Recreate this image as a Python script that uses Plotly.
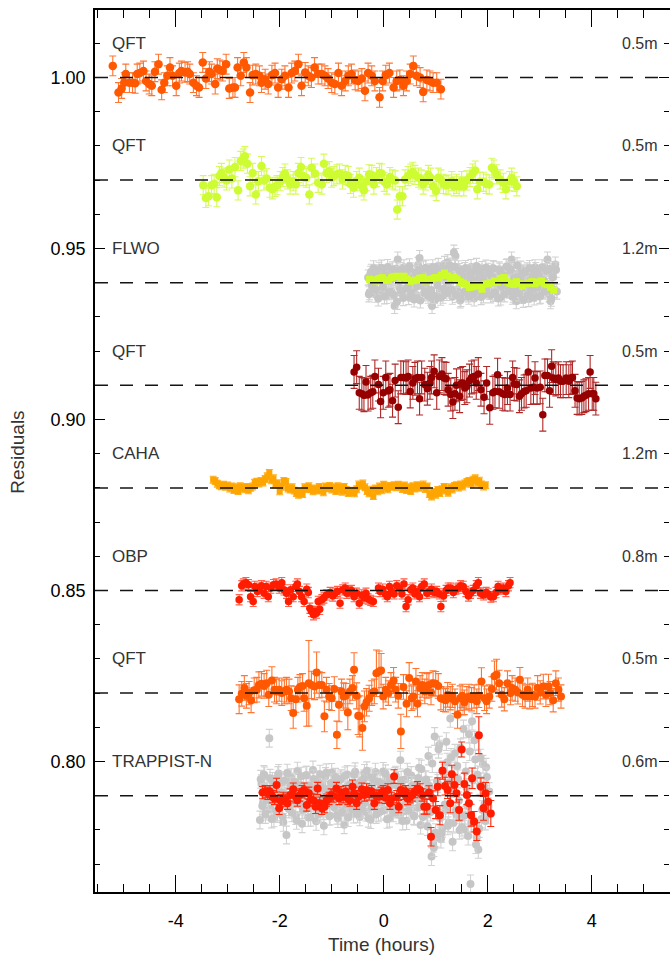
import plotly.graph_objects as go

# Stacked light-curve residuals: each light curve is shifted to its own baseline.
OFFSETS = [1.00, 0.97, 0.94, 0.91, 0.88, 0.85, 0.82, 0.79]
SITES = ["QFT", "QFT", "FLWO", "QFT", "CAHA", "OBP", "QFT", "TRAPPIST-N"]
APERTURES = ["0.5m", "0.5m", "1.2m", "0.5m", "1.2m", "0.8m", "0.5m", "0.6m"]
LABEL_SHIFT = 0.01  # site / aperture labels sit one grid step above each baseline

X_TICKS = [-4, -2, 0, 2, 4]
X_TICK_TEXT = ["-4", "-2", "0", "2", "4"]
Y_TICKS = [0.80, 0.85, 0.90, 0.95, 1.00]
Y_TICK_TEXT = ["0.80", "0.85", "0.90", "0.95", "1.00"]
Y_RANGE = [0.76184, 1.01974]

# Times in hours from mid-transit; residuals and errors in parts per thousand.
QFT1_T = [-5.21,-5.10,-5.04,-4.99,-4.96,-4.89,-4.83,-4.78,-4.74,-4.69,
          -4.62,-4.57,-4.51,-4.46,-4.40,-4.33,-4.27,-4.22,-4.16,-4.11,
          -4.06,-3.99,-3.93,-3.89,-3.82,-3.77,-3.73,-3.66,-3.60,-3.55,
          -3.48,-3.42,-3.35,-3.31,-3.24,-3.20,-3.15,-3.10,-3.03,-2.97,
          -2.90,-2.86,-2.81,-2.75,-2.69,-2.64,-2.57,-2.52,-2.46,-2.39,
          -2.35,-2.28,-2.22,-2.15,-2.09,-2.03,-1.96,-1.90,-1.83,-1.77,
          -1.71,-1.64,-1.58,-1.51,-1.45,-1.39,-1.33,-1.26,-1.19,-1.13,
          -1.07,-1.00,-0.94,-0.87,-0.81,-0.74,-0.68,-0.62,-0.55,-0.49,
          -0.42,-0.36,-0.30,-0.23,-0.17,-0.08,-0.02,0.04,0.11,0.19,
          0.25,0.31,0.38,0.44,0.51,0.57,0.63,0.70,0.76,0.83,
          0.89,0.95,1.02,1.10]
QFT1_R = [3.4,-4.4,-3.2,-1.5,1.0,-1.5,-1.5,-1.7,1.0,1.3,
          1.9,-1.0,-1.9,-2.4,1.7,3.9,-3.6,-1.5,0.5,2.9,
          0.5,-2.4,1.3,1.9,1.5,1.7,1.0,-1.5,-2.4,-2.9,
          4.4,-0.3,1.7,1.0,-1.9,2.6,2.2,1.9,3.9,-3.2,
          -2.9,-2.9,2.9,0.5,4.4,2.9,-4.4,0.7,1.0,0.5,
          -1.5,-0.5,-1.9,0.7,1.3,-2.9,-0.5,0.5,-2.9,1.3,
          1.9,3.9,-2.4,1.5,0.5,0.0,2.9,1.0,1.0,0.5,
          -0.3,-1.5,-1.9,1.3,-2.4,-1.0,0.5,1.0,-0.7,-1.0,
          -0.3,-3.9,1.3,0.5,-1.0,-5.8,-1.0,0.7,1.3,-2.9,
          -1.0,-0.7,-2.4,-1.0,1.0,3.4,0.5,0.0,-4.2,-0.7,
          -1.0,-1.5,-1.5,-3.4]
QFT1_ERR = 2.9

QFT2_T = [-3.47,-3.42,-3.37,-3.31,-3.26,-3.21,-3.16,-3.12,-3.07,-3.02,
          -2.97,-2.92,-2.86,-2.80,-2.75,-2.70,-2.67,-2.62,-2.57,-2.52,
          -2.46,-2.41,-2.35,-2.30,-2.25,-2.19,-2.14,-2.09,-2.05,-1.99,
          -1.94,-1.90,-1.85,-1.80,-1.74,-1.69,-1.64,-1.59,-1.55,-1.49,
          -1.43,-1.39,-1.32,-1.26,-1.19,-1.15,-1.10,-1.05,-1.00,-0.96,
          -0.90,-0.85,-0.79,-0.74,-0.68,-0.64,-0.58,-0.52,-0.47,-0.42,
          -0.38,-0.33,-0.28,-0.23,-0.19,-0.14,-0.08,-0.04,0.01,0.06,
          0.12,0.17,0.22,0.26,0.31,0.36,0.41,0.47,0.52,0.56,
          0.60,0.67,0.72,0.76,0.81,0.86,0.90,0.95,1.01,1.05,
          1.10,1.15,1.20,1.24,1.31,1.35,1.40,1.45,1.50,1.54,
          1.60,1.66,1.71,1.76,1.80,1.85,1.92,1.97,2.03,2.08,
          2.12,2.17,2.24,2.30,2.35,2.42,2.46,2.51,2.56]
QFT2_R = [-1.5,-5.2,-4.7,-1.5,-1.1,-5.0,1.2,2.1,0.7,-0.1,
          3.1,0.5,3.8,-3.0,5.6,6.3,7.0,4.8,-1.8,2.1,
          -4.2,-0.3,4.1,-0.1,0.5,-2.2,-2.7,-2.0,-1.5,-0.3,
          0.9,1.9,0.2,-1.3,-0.3,-1.3,2.1,3.8,1.2,0.7,
          -4.2,3.6,1.9,-0.8,-1.3,4.8,2.1,2.6,0.7,1.2,
          1.7,1.9,0.2,1.5,1.2,-1.1,-2.2,-0.3,0.7,-1.8,
          -3.0,-0.3,1.7,1.5,-1.3,0.9,2.1,1.9,-0.5,-1.3,
          0.9,0.2,-0.1,-8.6,-4.7,-4.7,0.2,1.2,1.9,2.4,
          1.5,0.7,0.2,-1.3,-0.1,1.5,0.7,-1.8,-3.2,0.7,
          0.2,-1.1,-1.5,-1.3,-0.3,-1.8,-1.1,-1.8,-0.3,-1.8,
          -0.1,0.9,1.9,2.8,-2.7,-0.5,-0.5,-1.1,-1.3,3.6,
          3.1,1.7,0.2,-0.8,-2.7,-0.3,0.7,-0.5,-1.8]
QFT2_ERR = 2.8

FLWO_RAW_T = [-0.30,-0.27,-0.24,-0.21,-0.18,-0.15,-0.12,-0.09,-0.06,-0.03,0.00,
              0.03,0.06,0.09,0.12,0.15,0.18,0.21,0.24,0.27,0.30,
              0.33,0.36,0.39,0.42,0.45,0.48,0.51,0.54,0.57,0.60,
              0.63,0.66,0.69,0.72,0.75,0.78,0.81,0.84,0.87,0.90,
              0.93,0.96,0.99,1.02,1.05,1.08,1.11,1.14,1.17,1.20,
              1.23,1.26,1.29,1.32,1.35,1.38,1.41,1.44,1.47,1.50,
              1.53,1.56,1.59,1.62,1.65,1.68,1.71,1.74,1.77,1.80,
              1.83,1.86,1.89,1.92,1.95,1.98,2.01,2.04,2.07,2.10,
              2.13,2.16,2.19,2.22,2.25,2.28,2.31,2.34,2.37,2.40,
              2.43,2.46,2.49,2.52,2.55,2.58,2.61,2.64,2.67,2.70,
              2.73,2.76,2.79,2.82,2.85,2.88,2.91,2.94,2.97,3.00,
              3.03,3.06,3.09,3.12,3.15,3.18,3.21,3.24,3.27,3.30,
              3.33]
FLWO_RAW_R = [1.5,-2.8,3.2,-1.0,2.4,-3.5,0.6,3.8,-2.2,1.2,-1.6,
              2.9,-3.9,0.4,3.3,-2.6,1.8,-6.8,4.1,6.8,-1.4,
              -3.0,2.2,4.5,-1.8,0.9,-4.2,3.6,1.3,-2.5,2.7,
              -3.6,5.2,7.2,-0.8,2.0,-3.1,4.4,-1.9,1.1,-4.4,
              -6.8,3.4,-5.0,0.5,4.9,-2.3,2.6,-3.8,5.5,0.2,
              6.0,-1.5,3.0,-4.1,8.8,7.8,-2.0,4.2,-5.2,1.4,
              -2.9,3.7,0.3,-3.4,2.5,4.6,-1.2,-4.6,1.9,3.1,
              -2.4,0.8,4.0,-3.7,2.1,-1.0,3.5,-2.7,0.6,4.3,
              -3.3,1.6,-0.5,3.9,-4.3,2.3,0.0,-2.1,4.8,-1.3,
              3.2,6.8,-3.5,1.0,-5.4,2.8,-0.9,4.1,-3.9,1.7,
              -2.0,3.6,-4.8,0.7,2.4,-3.2,4.5,-1.6,1.2,-4.0,
              2.9,-2.2,0.4,4.2,6.8,-3.4,-5.4,1.8,3.3,5.3,
              -2.6]
FLWO_RAW2_T = [-0.285,-0.255,-0.225,-0.195,-0.165,-0.135,-0.105,-0.075,-0.045,-0.015,
               0.015,0.045,0.075,0.105,0.135,0.165,0.195,0.225,0.255,0.285,
               0.315,0.345,0.375,0.405,0.435,0.465,0.495,0.525,0.555,0.585,
               0.615,0.645,0.675,0.705,0.735,0.765,0.795,0.825,0.855,0.885,
               0.915,0.945,0.975,1.005,1.035,1.065,1.095,1.125,1.155,1.185,
               1.215,1.245,1.275,1.305,1.335,1.365,1.395,1.425,1.455,1.485,
               1.515,1.545,1.575,1.605,1.635,1.665,1.695,1.725,1.755,1.785,
               1.815,1.845,1.875,1.905,1.935,1.965,1.995,2.025,2.055,2.085,
               2.115,2.145,2.175,2.205,2.235,2.265,2.295,2.325,2.355,2.385,
               2.415,2.445,2.475,2.505,2.535,2.565,2.595,2.625,2.655,2.685,
               2.715,2.745,2.775,2.805,2.835,2.865,2.895,2.925,2.955,2.985,
               3.015,3.045,3.075,3.105,3.135,3.165,3.195,3.225,3.255,3.285,
               3.315]
FLWO_RAW2_R = [-3.4,2.6,-0.8,4.2,-2.0,3.0,-4.6,1.8,4.4,-1.2,
               -4.0,2.2,4.6,-2.8,0.9,3.9,-3.5,1.4,-5.6,2.5,
               3.7,-2.4,-4.5,1.0,3.1,-1.5,4.8,-3.3,0.6,-4.9,
               2.9,-1.0,3.6,-5.2,1.6,4.1,-2.6,0.3,-3.8,3.3,
               -2.1,4.5,-3.9,1.9,-0.7,3.8,-4.4,2.4,-1.8,4.0,
               -3.0,2.7,5.0,-2.2,1.1,4.7,-3.6,0.8,3.4,-4.8,
               2.0,-2.7,4.3,-1.4,-4.1,1.5,3.0,-3.2,0.4,4.9,
               -1.9,3.2,-4.2,1.2,-2.5,4.4,-0.6,2.8,-3.7,1.7,
               4.1,-2.9,0.5,-4.6,3.5,-1.1,2.3,-3.4,4.6,0.0,
               -2.3,3.9,-4.1,1.3,-1.7,5.1,-3.1,0.9,2.6,-5.0,
               3.0,-0.4,-3.6,4.3,-2.0,1.8,-4.3,3.7,-1.3,2.1,
               -3.8,4.5,0.7,-2.6,3.4,-1.6,4.0,-4.7,1.6,-2.1,
               3.8]
FLWO_RAW_ERR = 2.2

FLWO_BIN_T = [-0.27,-0.21,-0.15,-0.09,-0.03,0.03,0.09,0.15,0.21,0.27,
              0.33,0.39,0.45,0.51,0.57,0.63,0.69,0.75,0.81,0.87,
              0.93,0.99,1.05,1.11,1.17,1.23,1.29,1.35,1.41,1.47,
              1.53,1.59,1.65,1.71,1.77,1.83,1.89,1.95,2.01,2.07,
              2.13,2.19,2.25,2.31,2.37,2.43,2.49,2.55,2.61,2.67,
              2.73,2.79,2.85,2.91,2.97,3.03,3.09,3.15,3.21,3.27]
FLWO_BIN_R = [1.0,0.8,0.5,1.2,1.5,0.8,0.7,1.5,1.8,1.9,
              1.6,1.9,1.0,0.4,0.6,0.8,1.3,1.5,0.5,0.9,
              1.1,1.5,1.4,2.2,2.8,2.0,1.4,1.5,1.0,0.3,
              -0.2,-0.6,-1.4,-1.2,-0.5,-1.0,-1.9,-0.4,-0.3,0.0,
              0.5,0.2,1.2,1.5,0.3,-0.2,-0.5,0.3,-0.3,-1.0,
              -0.4,-0.2,0.3,-0.3,0.2,0.5,-0.2,-0.6,-1.4,-2.2]
FLWO_BIN_ERR = 0.7

QFT3_T = [-0.57,-0.52,-0.47,-0.42,-0.38,-0.34,-0.30,-0.25,-0.21,-0.17,
          -0.10,-0.06,-0.01,0.04,0.09,0.12,0.17,0.22,0.28,0.33,
          0.38,0.43,0.47,0.51,0.56,0.60,0.65,0.69,0.73,0.79,
          0.84,0.89,0.92,0.97,1.02,1.07,1.12,1.16,1.20,1.24,
          1.29,1.33,1.37,1.40,1.46,1.48,1.52,1.56,1.60,1.65,
          1.69,1.74,1.78,1.82,1.87,1.93,1.98,2.04,2.10,2.14,
          2.19,2.22,2.29,2.33,2.38,2.43,2.48,2.51,2.56,2.61,
          2.65,2.70,2.74,2.78,2.83,2.88,2.91,2.95,3.01,3.06,
          3.10,3.15,3.19,3.23,3.26,3.31,3.36,3.40,3.45,3.51,
          3.56,3.60,3.63,3.68,3.72,3.76,3.81,3.85,3.89,3.94,
          3.97,4.01,4.04,4.08]
QFT3_R = [3.9,5.3,-2.2,-2.5,-2.9,1.0,-2.7,-2.2,-1.9,2.6,
          0.2,-4.7,-2.2,2.3,-1.6,-1.3,-4.5,1.4,-6.4,2.3,
          2.3,2.1,2.6,-1.8,0.7,1.9,2.3,-3.9,2.3,0.2,
          -1.0,0.7,2.3,4.1,-2.2,2.6,3.3,2.1,1.9,-1.3,
          -2.7,-4.9,-2.5,0.0,-3.2,0.4,0.7,-0.8,-0.3,1.4,
          2.3,2.6,0.7,3.3,-1.3,-3.5,0.7,-6.6,-2.2,-1.8,
          3.1,-1.9,-2.5,-2.7,-0.8,-2.7,2.3,0.4,0.2,-3.2,
          -2.5,-1.8,-1.6,3.9,-0.8,-0.6,2.1,-0.8,-0.6,-8.6,
          2.9,2.9,-1.6,5.6,2.1,1.7,2.1,1.2,1.2,2.1,
          1.2,2.1,2.3,-1.6,-3.7,-3.9,-3.7,-3.2,-2.9,-2.5,
          3.9,-2.5,-2.5,-3.9]
QFT3_ERR = 4.8

CAHA_T = [-3.28,-3.24,-3.20,-3.16,-3.12,-3.08,-3.04,-3.00,-2.96,-2.92,
          -2.88,-2.84,-2.80,-2.76,-2.72,-2.68,-2.64,-2.60,-2.56,-2.52,
          -2.48,-2.44,-2.40,-2.36,-2.32,-2.28,-2.24,-2.20,-2.16,-2.12,
          -2.08,-2.04,-2.00,-1.96,-1.92,-1.88,-1.84,-1.80,-1.76,-1.72,
          -1.68,-1.64,-1.60,-1.56,-1.52,-1.48,-1.44,-1.40,-1.36,-1.32,
          -1.28,-1.24,-1.20,-1.16,-1.12,-1.08,-1.04,-1.00,-0.96,-0.92,
          -0.88,-0.84,-0.80,-0.76,-0.72,-0.68,-0.64,-0.60,-0.56,-0.52,
          -0.48,-0.44,-0.40,-0.36,-0.32,-0.28,-0.24,-0.20,-0.16,-0.12,
          -0.08,-0.04,0.00,0.04,0.08,0.12,0.16,0.20,0.24,0.28,
          0.32,0.36,0.40,0.44,0.48,0.52,0.56,0.60,0.64,0.68,
          0.72,0.76,0.80,0.84,0.88,0.92,0.96,1.00,1.04,1.08,
          1.12,1.16,1.20,1.24,1.28,1.32,1.36,1.40,1.44,1.48,
          1.52,1.56,1.60,1.64,1.68,1.72,1.76,1.80,1.84,1.88,
          1.92,1.96]
CAHA_R = [2.4,2.0,1.2,0.8,0.5,0.9,0.3,0.7,-0.2,0.4,
          -0.6,0.2,-0.9,0.5,0.1,-0.4,0.3,-0.7,0.0,0.4,
          1.5,1.8,1.3,2.0,1.6,2.6,3.4,4.4,2.2,2.8,
          1.0,1.4,-1.0,0.3,2.0,1.7,-0.2,-0.5,0.2,-0.8,
          -1.5,-2.0,-1.2,-1.8,0.2,-0.3,0.5,-0.4,-1.0,-0.2,
          -0.8,0.3,-0.6,-1.3,0.4,-0.1,0.6,-0.5,0.2,-0.9,
          0.5,-0.2,-1.1,0.3,-0.6,-1.5,-1.2,-0.8,-1.6,-0.4,
          1.0,0.6,1.3,0.2,-0.9,-1.6,-0.5,-2.4,-0.2,-1.0,
          0.4,-0.7,0.9,0.1,-0.4,0.6,0.3,0.8,0.2,0.9,
          0.4,-0.3,0.7,-0.6,0.2,-0.9,0.5,-0.2,0.8,0.0,
          0.6,1.0,-0.3,0.4,-1.8,-2.5,-1.2,-2.0,-0.6,-1.5,
          -0.4,0.3,-0.8,-1.4,0.2,-0.5,0.6,0.8,0.1,1.0,
          0.4,1.3,1.7,2.0,1.2,2.4,2.8,1.5,2.1,1.0,
          0.4,0.8]
CAHA_ERR = 1.0

OBP_T = [-2.78,-2.73,-2.70,-2.65,-2.60,-2.56,-2.51,-2.48,-2.43,-2.39,
         -2.35,-2.30,-2.26,-2.22,-2.17,-2.12,-2.07,-2.01,-1.96,-1.92,
         -1.87,-1.83,-1.79,-1.74,-1.69,-1.66,-1.62,-1.58,-1.53,-1.48,
         -1.45,-1.42,-1.39,-1.35,-1.32,-1.29,-1.26,-1.23,-1.19,-1.15,
         -1.10,-1.03,-0.98,-0.94,-0.89,-0.84,-0.79,-0.74,-0.71,-0.66,
         -0.62,-0.57,-0.52,-0.47,-0.42,-0.38,-0.34,-0.30,-0.25,-0.20,
         -0.10,-0.07,-0.02,0.03,0.07,0.11,0.15,0.20,0.25,0.30,
         0.35,0.39,0.43,0.47,0.52,0.56,0.60,0.65,0.69,0.73,
         0.78,0.83,0.88,0.92,0.97,1.02,1.07,1.10,1.15,1.20,
         1.24,1.29,1.34,1.39,1.44,1.48,1.53,1.58,1.63,1.67,
         1.72,1.78,1.82,1.86,1.92,1.97,2.01,2.06,2.11,2.16,
         2.20,2.25,2.30,2.35,2.40,2.43]
OBP_R = [-2.7,1.4,1.9,2.3,1.7,-1.8,-3.2,1.2,-0.3,0.7,
         1.4,-0.8,1.2,-1.8,0.7,1.7,1.9,0.7,2.3,0.2,
         -0.8,-3.2,0.2,-1.8,1.2,1.9,-0.3,-1.8,-3.2,0.4,
         -0.6,-5.2,-6.1,-7.1,-6.1,-6.6,-3.2,-5.5,-2.7,-2.2,
         -1.3,-0.6,-1.6,-0.8,-0.3,-3.7,0.2,0.7,-0.8,-0.3,
         0.0,-1.8,-0.8,-3.7,-1.3,-2.2,-0.8,-2.5,-2.9,-3.2,
         0.7,-0.3,0.4,-1.0,-1.8,1.2,-0.3,-1.0,1.4,0.7,
         -1.0,1.9,-4.7,-2.7,0.2,0.7,-1.0,-0.3,-1.8,1.2,
         1.9,-0.8,-0.3,0.4,-0.6,-0.3,-1.0,-4.7,-1.6,0.0,
         0.7,0.7,-0.6,0.4,0.7,1.4,1.2,-0.3,-1.6,-0.8,
         0.0,1.4,2.3,-0.8,-1.3,-0.6,-1.0,-1.9,-1.8,-0.6,
         1.2,0.4,0.7,-0.3,1.4,2.3]
OBP_ERR = 1.5

QFT4_T = [-2.78,-2.73,-2.68,-2.64,-2.59,-2.55,-2.49,-2.44,-2.40,-2.35,
          -2.30,-2.25,-2.21,-2.15,-2.10,-2.06,-2.01,-1.96,-1.91,-1.87,
          -1.82,-1.78,-1.74,-1.69,-1.65,-1.61,-1.56,-1.53,-1.48,-1.44,
          -1.39,-1.33,-1.29,-1.24,-1.19,-1.14,-1.10,-1.05,-1.00,-0.95,
          -0.90,-0.86,-0.81,-0.77,-0.73,-0.69,-0.65,-0.60,-0.57,-0.52,
          -0.49,-0.46,-0.41,-0.37,-0.33,-0.28,-0.23,-0.18,-0.14,-0.09,
          -0.05,-0.01,0.04,0.09,0.14,0.19,0.23,0.28,0.33,0.38,
          0.44,0.49,0.54,0.57,0.62,0.65,0.70,0.74,0.79,0.83,
          0.87,0.91,0.95,1.00,1.05,1.10,1.15,1.19,1.23,1.28,
          1.32,1.37,1.42,1.47,1.51,1.55,1.60,1.64,1.69,1.74,
          1.79,1.83,1.88,1.94,1.98,2.03,2.08,2.13,2.17,2.22,
          2.27,2.32,2.38,2.44,2.47,2.53,2.58,2.62,2.67,2.72,
          2.77,2.81,2.86,2.91,2.96,3.01,3.07,3.12,3.17,3.20,
          3.26,3.31,3.36,3.41]
QFT4_R = [-1.8,-0.2,1.5,-0.8,0.0,-2.1,0.8,1.0,2.4,2.7,
          2.1,2.9,-0.5,3.7,1.0,0.5,1.0,0.0,0.5,1.0,
          0.5,-1.5,-5.8,-1.8,1.0,1.8,2.1,-1.5,-3.7,2.9,
          2.4,1.9,6.0,2.4,2.4,-6.8,1.0,-1.0,-1.5,1.2,
          -12.2,-3.4,0.5,-1.0,-0.8,-5.7,0.5,1.5,6.8,-0.8,
          -6.6,-6.8,-10.2,-3.9,-2.7,-1.5,0.0,0.5,5.8,6.3,
          6.6,-1.0,1.0,0.0,2.4,3.7,1.0,-0.8,-11.2,1.8,
          -3.1,4.4,-1.5,-1.0,3.4,-3.1,1.5,2.4,0.5,2.1,
          2.4,0.2,2.9,2.7,2.1,-1.5,-1.8,-2.1,-0.5,-1.5,
          -0.8,-2.4,-6.3,-1.5,-0.8,-2.7,-1.5,-1.0,-1.8,-1.0,
          -2.4,-0.8,3.4,-1.5,-2.4,-1.0,1.2,4.9,5.4,2.9,
          -0.5,-1.8,2.9,0.0,1.5,1.0,0.2,3.9,-0.5,-1.0,
          1.0,-1.0,-0.5,-1.0,1.5,0.2,1.9,-0.5,1.9,0.0,
          -2.1,2.9,1.0,-1.0]
QFT4_E = [4.2,3.6,3.6,3.6,3.4,3.6,3.6,3.6,3.8,3.6,
          3.6,3.8,3.4,4.0,3.6,3.6,3.4,3.6,3.6,3.6,
          3.6,3.6,4.5,3.8,3.6,3.6,3.6,3.8,6.0,12.5,
          4.0,3.8,6.0,3.8,3.6,4.5,3.6,3.8,3.6,3.6,
          4.0,5.0,3.6,4.0,3.6,5.0,3.6,3.6,5.0,3.8,
          5.5,6.0,6.5,4.5,4.0,3.8,3.6,3.6,6.8,6.0,
          5.0,3.6,3.6,3.6,3.6,3.8,3.6,3.6,5.0,3.6,
          3.8,4.5,3.6,3.6,3.8,3.8,3.6,3.6,3.6,3.6,
          3.6,3.6,3.6,3.6,3.6,3.4,3.6,3.4,3.6,3.4,
          3.4,3.6,4.0,3.6,3.4,3.6,3.4,3.6,3.4,3.4,
          3.6,3.4,4.0,3.6,3.6,3.4,3.6,4.5,4.5,3.8,
          3.6,3.4,3.6,3.4,3.6,3.4,3.4,3.6,3.4,3.4,
          3.4,3.6,3.4,3.4,3.6,3.4,3.6,3.4,3.6,3.4,
          3.4,3.6,3.4,3.4]

TRN_RAW_T = [-2.38,-2.35,-2.32,-2.29,-2.26,-2.23,-2.20,-2.17,-2.14,-2.11,
             -2.08,-2.05,-2.02,-1.99,-1.96,-1.93,-1.90,-1.87,-1.84,-1.81,
             -1.78,-1.75,-1.72,-1.69,-1.66,-1.63,-1.60,-1.57,-1.54,-1.51,
             -1.48,-1.45,-1.42,-1.39,-1.36,-1.33,-1.30,-1.27,-1.24,-1.21,
             -1.18,-1.15,-1.12,-1.09,-1.06,-1.03,-1.00,-0.97,-0.94,-0.91,
             -0.88,-0.85,-0.82,-0.79,-0.76,-0.73,-0.70,-0.67,-0.64,-0.61,
             -0.58,-0.55,-0.52,-0.49,-0.46,-0.43,-0.40,-0.37,-0.34,-0.31,
             -0.28,-0.25,-0.22,-0.19,-0.16,-0.13,-0.10,-0.07,-0.04,-0.01,
             0.02,0.05,0.08,0.11,0.14,0.17,0.20,0.23,0.26,0.29,
             0.32,0.35,0.38,0.41,0.44,0.47,0.50,0.53,0.56,0.59,
             0.62,0.65,0.68,0.71,0.74,0.77,0.80,0.83,0.86,0.89,
             0.92,0.95,0.98,1.01,1.04,1.07,1.10,1.13,1.16,1.19,
             1.22,1.25,1.28,1.31,1.34,1.37,1.40,1.43,1.46,1.49,
             1.52,1.55,1.58,1.61,1.64,1.67,1.70,1.73,1.76,1.79,
             1.82,1.85,1.88,1.91,1.94,1.97,2.00,2.03]
TRN_RAW_R = [-7.1,3.5,-2.0,5.8,-4.5,1.2,16.8,-3.8,4.2,-6.5,
             2.6,-5.2,6.5,-1.0,3.8,-7.8,0.5,-11.5,4.9,-3.2,
             5.3,-2.6,1.9,-5.8,7.2,-0.4,3.1,-8.2,2.4,-4.0,
             6.0,-6.4,1.1,-2.9,7.5,-1.8,-7.5,4.6,0.3,-5.1,
             3.4,-8.8,5.6,-2.3,1.5,-5.9,6.8,-0.9,-3.6,4.0,
             -6.7,2.1,5.0,-3.0,-8.5,1.7,6.2,-4.4,0.8,3.6,
             -5.4,7.0,-1.5,2.8,-6.2,4.3,-2.5,6.5,-4.8,1.0,
             5.5,-7.0,2.9,-3.3,6.9,-0.6,-5.0,3.9,-2.0,7.1,
             -4.2,1.4,5.2,-6.6,0.2,3.2,-3.9,6.0,-1.1,-5.6,
             10.4,2.5,-4.6,4.7,-7.3,1.8,-2.8,5.9,-0.2,-6.0,
             3.3,-3.5,8.2,-8.6,1.0,-1.6,4.4,-5.3,11.6,2.0,
             -17.8,-13.9,17.3,-12.4,3.6,14.8,-12.7,-9.5,6.4,-4.3,
             9.8,-7.9,22.6,2.1,-8.0,12.4,-5.6,4.9,-10.1,-6.4,
             26.0,-9.8,7.1,-3.0,18.0,-25.8,21.8,-7.2,10.6,-12.2,
             -15.7,3.0,-6.8,9.2,-2.4,8.3,-5.6,1.2]
TRN_RAW2_T = [-2.365,-2.335,-2.305,-2.275,-2.245,-2.215,-2.185,-2.155,-2.125,-2.095,
              -2.065,-2.035,-2.005,-1.975,-1.945,-1.915,-1.885,-1.855,-1.825,-1.795,
              -1.765,-1.735,-1.705,-1.675,-1.645,-1.615,-1.585,-1.555,-1.525,-1.495,
              -1.465,-1.435,-1.405,-1.375,-1.345,-1.315,-1.285,-1.255,-1.225,-1.195,
              -1.165,-1.135,-1.105,-1.075,-1.045,-1.015,-0.985,-0.955,-0.925,-0.895,
              -0.865,-0.835,-0.805,-0.775,-0.745,-0.715,-0.685,-0.655,-0.625,-0.595,
              -0.565,-0.535,-0.505,-0.475,-0.445,-0.415,-0.385,-0.355,-0.325,-0.295,
              -0.265,-0.235,-0.205,-0.175,-0.145,-0.115,-0.085,-0.055,-0.025,0.005,
              0.035,0.065,0.095,0.125,0.155,0.185,0.215,0.245,0.275,0.305,
              0.335,0.365,0.395,0.425,0.455,0.485,0.515,0.545,0.575,0.605,
              0.635,0.665,0.695,0.725,0.755,0.785,0.815,0.845,0.875,0.905,
              0.935,0.965,0.995,1.025,1.055,1.085,1.115,1.145,1.175,1.205,
              1.235,1.265,1.295,1.325,1.355,1.385,1.415,1.445,1.475,1.505,
              1.535,1.565,1.595,1.625,1.655,1.685,1.715,1.745,1.775,1.805,
              1.835,1.865,1.895,1.925,1.955,1.985,2.015]
TRN_RAW2_R = [4.8,-3.0,6.2,-5.5,2.0,-1.4,5.1,-6.8,0.7,3.3,
              -4.7,5.9,-2.2,1.0,-6.1,4.4,-0.3,6.6,-3.9,2.8,
              -5.0,0.4,4.0,-7.2,2.3,-2.6,5.7,-4.1,1.3,6.0,
              -3.5,3.0,-6.3,0.9,4.9,-1.9,2.5,-5.4,6.3,-0.8,
              -4.4,2.0,6.7,-2.7,-6.0,3.7,0.2,-3.1,5.4,-5.7,
              1.6,4.6,-4.9,-0.5,5.8,-2.4,-6.4,3.2,1.1,-3.8,
              6.1,-1.7,-5.3,3.8,0.6,-4.0,4.9,-2.0,7.3,-6.6,
              2.2,-3.4,5.0,-0.9,-5.5,4.1,1.5,-4.6,3.4,-1.2,
              6.4,-6.9,0.8,3.6,-2.8,-5.0,5.6,-0.4,2.7,-3.6,
              4.5,-7.4,1.9,-2.1,6.9,-4.3,0.1,3.0,-5.8,2.4,
              -1.0,5.2,-3.3,7.8,-6.2,0.5,4.7,-9.0,2.9,-4.8,
              9.4,-15.2,-10.8,4.2,13.6,-6.6,-11.0,7.5,-2.6,15.8,
              -8.8,3.9,11.2,-13.5,5.6,-4.4,8.7,-1.5,14.0,-9.2,
              19.5,-5.7,2.4,-11.8,12.9,-7.8,4.6,16.2,-14.3,6.1,
              -9.6,11.0,-4.1,2.6,-7.4,5.5,-3.2]
TRN_RAW_ERR = 2.6

TRN_T = [-2.33,-2.28,-2.23,-2.19,-2.14,-2.10,-2.06,-2.01,-1.98,-1.93,
         -1.89,-1.85,-1.80,-1.74,-1.69,-1.66,-1.61,-1.57,-1.53,-1.48,
         -1.44,-1.40,-1.35,-1.31,-1.27,-1.23,-1.19,-1.14,-1.10,-1.05,
         -1.01,-0.97,-0.91,-0.86,-0.82,-0.78,-0.73,-0.69,-0.65,-0.60,
         -0.57,-0.52,-0.48,-0.42,-0.37,-0.33,-0.28,-0.23,-0.18,-0.14,
         -0.09,-0.05,-0.01,0.03,0.08,0.12,0.15,0.20,0.25,0.29,
         0.33,0.38,0.42,0.46,0.51,0.55,0.60,0.65,0.70,0.74,
         0.78,0.83,0.87,0.91,0.95,1.00,1.04,1.08,1.13,1.18,
         1.23,1.28,1.31,1.36,1.40,1.45,1.50,1.55,1.60,1.64,
         1.68,1.70,1.74,1.79,1.83,1.87,1.92,1.96,2.01,2.06]
TRN_R = [0.9,1.2,0.7,1.2,-0.3,-0.8,3.1,-3.7,-1.5,-0.8,
         -1.3,-2.2,0.2,1.9,-0.3,-1.3,0.2,1.2,1.7,-2.7,
         0.7,-1.1,-1.3,-3.2,2.1,-2.2,-3.7,-3.2,-1.3,-0.8,
         0.2,-0.1,2.1,-0.8,0.9,-0.3,1.2,-0.8,-1.3,2.6,
         0.7,-2.2,-0.3,1.9,0.2,1.7,0.5,1.2,-2.2,-0.1,
         -0.3,0.7,1.2,-0.5,1.7,-2.2,-0.8,5.6,-0.3,-3.2,
         1.7,0.7,1.2,-0.8,-0.3,0.2,1.2,2.1,1.7,0.2,
         -3.2,-3.2,0.9,-12.0,-0.8,-4.2,2.6,-5.7,7.3,2.8,
         1.7,-2.2,6.3,3.1,0.7,-4.2,13.5,3.4,0.2,-2.2,
         -5.7,5.1,-7.6,-10.5,17.7,2.6,-3.7,0.7,-1.8,-5.2]
TRN_E = [1.8,1.8,1.8,1.8,1.8,1.8,2.0,1.8,1.8,1.8,
         1.8,1.8,1.8,1.8,1.8,1.8,1.8,1.8,2.0,1.8,
         1.8,1.8,1.8,2.0,1.8,1.8,1.8,1.8,1.8,1.8,
         1.8,1.8,1.8,1.8,1.8,1.8,1.8,1.8,1.8,2.0,
         1.8,1.8,1.8,1.8,1.8,1.8,1.8,1.8,1.8,1.8,
         1.8,1.8,1.8,1.8,1.8,1.8,1.8,2.0,1.8,1.8,
         1.8,1.8,1.8,1.8,1.8,1.8,1.8,2.0,1.8,1.8,
         2.2,2.2,2.0,2.7,2.2,2.5,2.6,2.8,2.5,2.6,
         2.5,2.8,2.6,3.0,2.6,3.0,2.2,3.2,2.8,3.0,
         3.2,3.0,3.0,2.6,5.4,2.6,3.5,3.2,3.0,3.8]

GRAY = "rgb(198,198,198)"
GRAY_BAR = "rgb(210,210,210)"

# (times, residuals, errors, baseline index, marker colour, error-bar colour, marker size, symbol)
SERIES = [
    (FLWO_RAW_T, FLWO_RAW_R, FLWO_RAW_ERR, 2, GRAY, GRAY_BAR, 8, "circle"),
    (FLWO_RAW2_T, FLWO_RAW2_R, FLWO_RAW_ERR, 2, GRAY, GRAY_BAR, 8, "circle"),
    (TRN_RAW_T, TRN_RAW_R, TRN_RAW_ERR, 7, GRAY, GRAY_BAR, 8, "circle"),
    (TRN_RAW2_T, TRN_RAW2_R, TRN_RAW_ERR, 7, GRAY, GRAY_BAR, 8, "circle"),
    (QFT1_T, QFT1_R, QFT1_ERR, 0, "rgb(255,88,0)", "rgb(255,118,50)", 8.5, "circle"),
    (QFT2_T, QFT2_R, QFT2_ERR, 1, "rgb(206,252,50)", "rgb(214,250,90)", 8.5, "circle"),
    (FLWO_BIN_T, FLWO_BIN_R, FLWO_BIN_ERR, 2, "rgb(206,252,40)", "rgb(206,252,40)", 7, "square"),
    (QFT3_T, QFT3_R, QFT3_ERR, 3, "rgb(150,0,0)", "rgb(175,40,40)", 7.5, "circle"),
    (CAHA_T, CAHA_R, CAHA_ERR, 4, "rgb(255,165,0)", "rgb(255,175,30)", 6, "square"),
    (OBP_T, OBP_R, OBP_ERR, 5, "rgb(255,28,0)", "rgb(255,95,75)", 7.5, "circle"),
    (QFT4_T, QFT4_R, QFT4_E, 6, "rgb(255,88,0)", "rgb(255,118,50)", 8, "circle"),
    (TRN_T, TRN_R, TRN_E, 7, "rgb(255,28,0)", "rgb(255,40,10)", 8, "circle"),
]

FONT = "Liberation Sans, Arial, Helvetica, sans-serif"

fig = go.Figure()
for t, r, err, k, col, ecol, size, sym in SERIES:
    base = OFFSETS[k]
    y = [base + v * 1e-3 for v in r]
    if isinstance(err, list):
        ey = dict(type="data", array=[e * 1e-3 for e in err], visible=True)
    else:
        ey = dict(type="constant", value=err * 1e-3, visible=True)
    ey.update(color=ecol, thickness=1.1, width=3.5)
    fig.add_trace(go.Scatter(
        x=t, y=y, mode="markers",
        marker=dict(color=col, size=size, symbol=sym, line=dict(width=0)),
        error_y=ey, showlegend=False, hoverinfo="skip",
    ))

# empty trace that carries the right-hand tick axis
fig.add_trace(go.Scatter(x=[], y=[], yaxis="y2", showlegend=False, hoverinfo="skip"))

# dashed baselines drawn over the points
for base in OFFSETS:
    fig.add_shape(type="line", xref="paper", x0=0, x1=1, yref="y", y0=base, y1=base,
                  line=dict(color="rgb(20,20,20)", width=1.5, dash="13px,12px"),
                  layer="above")

for base, site, ap in zip(OFFSETS, SITES, APERTURES):
    fig.add_annotation(text=site, xref="paper", x=0.026, yref="y", y=base + LABEL_SHIFT,
                       xanchor="left", yanchor="middle", showarrow=False,
                       font=dict(family=FONT, size=17, color="#333"))
    fig.add_annotation(text=ap, xref="paper", x=0.982, yref="y", y=base + LABEL_SHIFT,
                       xanchor="right", yanchor="middle", showarrow=False,
                       font=dict(family=FONT, size=16, color="#333"))

fig.add_annotation(text="Residuals", xref="paper", x=-0.134, yref="paper", y=0.499,
                   textangle=-90, xanchor="center", yanchor="middle", showarrow=False,
                   font=dict(family=FONT, size=19, color="#333"))
fig.add_annotation(text="Time (hours)", xref="paper", x=0.499, yref="paper", y=-0.060,
                   xanchor="center", yanchor="middle", showarrow=False,
                   font=dict(family=FONT, size=19, color="#333"))

fig.update_layout(
    width=670, height=964,
    margin=dict(l=95, r=0, t=10, b=72),
    paper_bgcolor="white", plot_bgcolor="white",
    font=dict(family=FONT, size=18, color="black"),
    xaxis=dict(
        range=[-5.552, 5.506], showgrid=False, zeroline=False,
        showline=True, linecolor="black", linewidth=1.6, mirror="ticks",
        ticks="inside", ticklen=17, tickwidth=1.4, tickcolor="black",
        tickmode="array", tickvals=X_TICKS, ticktext=X_TICK_TEXT,
        ticklabelstandoff=12,
        tickfont=dict(family=FONT, size=18, color="black"),
        minor=dict(dtick=0.5, tick0=0, ticks="inside", ticklen=8,
                   tickwidth=1.2, tickcolor="black", showgrid=False),
    ),
    yaxis=dict(
        range=Y_RANGE, showgrid=False, zeroline=False,
        showline=True, linecolor="black", linewidth=1.6, mirror=False,
        ticks="inside", ticklen=10, tickwidth=1.4, tickcolor="black",
        tickmode="array", tickvals=Y_TICKS, ticktext=Y_TICK_TEXT,
        ticklabelstandoff=4,
        tickfont=dict(family=FONT, size=18, color="black"),
        minor=dict(dtick=0.01, tick0=0, ticks="inside", ticklen=5,
                   tickwidth=1.2, tickcolor="black", showgrid=False),
    ),
    yaxis2=dict(
        overlaying="y", side="right", anchor="free", position=0.9985,
        range=Y_RANGE, showgrid=False, zeroline=False, showline=False,
        ticks="inside", ticklen=10, tickwidth=1.4, tickcolor="black",
        tickmode="array", tickvals=Y_TICKS, showticklabels=False,
        minor=dict(dtick=0.01, tick0=0, ticks="inside", ticklen=5,
                   tickwidth=1.2, tickcolor="black", showgrid=False),
    ),
)

fig.write_html("out.html")
